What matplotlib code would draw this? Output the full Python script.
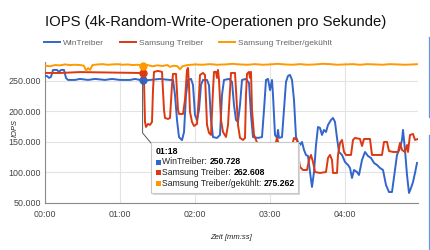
import matplotlib
matplotlib.use("Agg")
import matplotlib.pyplot as plt
from matplotlib.lines import Line2D
from matplotlib.patches import Rectangle
from matplotlib.ticker import FuncFormatter

plt.rcParams['font.family'] = ['Liberation Sans', 'DejaVu Sans']

# Zeit in Sekunden, IOPS in Tausend
win_t = [0, 1.6, 3.2, 4.8, 6.4, 9.6, 11.2, 12.8, 15.2, 16.8, 18.4, 24, 28, 34.4, 40, 48, 53.6, 60, 68, 72, 76, 78,
         84, 92, 100, 102.4, 104, 105.6, 107.2, 109.6, 111.2, 112.8, 114.4, 116.8, 118.4, 120, 121.6, 123.2, 124.8,
         126.4, 129.6, 131.2, 132.8, 134.4, 137.6, 140, 141.6, 143.2, 147.2, 149.6, 151.2, 152.8, 154.4, 156, 157.6,
         160.8, 163.2, 164.8, 166.4, 170.4, 173.6, 175.2, 176.8, 178.4, 180, 181.6, 182.4, 184, 185.6, 186.4, 187.2,
         189.6, 191.2, 192.8, 194.4, 196, 197.6, 199.2, 200.8, 202.4, 204, 205.6, 207.2, 208.8, 210.4, 212, 213.6,
         215.2, 216.8, 218.4, 220, 221.6, 223.2, 224.8, 226.4, 228.8, 230.4, 232, 233.6, 235.2, 237.6, 240, 242.4,
         244, 245.6, 247.2, 249.6, 251.2, 253.6, 256, 258.4, 260.8, 263.2, 265.6, 268, 270.4, 272.8, 275.2, 277.6,
         280, 281.6, 284, 285.6, 286.4, 288, 289.6, 291.2, 292.8, 294.4, 296, 297.6]
win_iops = [258.2, 258, 254.9, 256.6, 268, 268, 264.8, 268, 268, 254.9, 251.6, 251.6, 253.3, 251.6, 253.3, 251.6,
            253.3, 251.6, 251.6, 253.3, 251.6, 250.728, 251.6, 253.3, 251.6, 251.6, 227, 186, 158, 153, 166, 227,
            251.6, 253.3, 243.4, 194.3, 186, 202.5, 243.4, 251.6, 251.6, 243, 186, 158, 156.6, 161.5, 227, 251.6,
            253.3, 248.4, 210.6, 186, 182.8, 210.6, 251.6, 253.3, 246.7, 194.3, 158, 156.6, 158, 202.5, 251.6,
            253.3, 235, 251.6, 227, 161.5, 156.6, 169.7, 156.6, 158, 202.5, 248.4, 258.2, 259.8, 251.6, 218.9,
            158.2, 150, 145, 150, 137, 128.7, 127, 100.8, 76.2, 100.8, 145, 174.6, 173, 161.5, 169.7, 166.4, 177.9,
            186, 189.3, 182.8, 156.6, 133.6, 128.7, 117.2, 112.3, 107.4, 91, 104.1, 100.8, 95.9, 120.5, 133.6, 127,
            123.8, 115.6, 112.3, 107.4, 104.1, 79.5, 68, 68, 104.1, 128.7, 140.2, 153.3, 169.7, 136.9, 95.9, 66.4,
            74.6, 84.4, 99.2, 115.6]

sam_t = [0, 12, 28, 44, 60, 76, 78, 79.2, 80, 80.8, 82.4, 84, 85.6, 86.4, 87.2, 90.4, 93.6, 95.2, 96, 98.4, 100,
         101.6, 102.4, 104.8, 106.4, 107.2, 110.4, 112, 113.6, 114.4, 115.2, 116, 117.6, 119.2, 121.6, 123.2, 124,
         126.4, 128, 129.6, 131.2, 132.8, 134.4, 135.2, 136.8, 137.6, 138.4, 139.2, 140.8, 142.4, 144.8, 146.4, 148,
         148.8, 152, 152.8, 154.4, 156, 158.4, 160, 160.8, 161.6, 163.2, 164, 164.8, 165.6, 167.2, 168.8, 170.4,
         173.6, 176.8, 180, 183.2, 185.6, 187.2, 190.4, 193.6, 196.8, 199.2, 201.6, 203.2, 204, 206.4, 209.6, 211.2,
         212.8, 214.4, 216, 220, 224.8, 226.4, 228, 229.6, 230.4, 233.6, 234.4, 236, 237.6, 239.2, 240.8, 244.8,
         246.4, 248, 252, 253.6, 255.2, 260, 261.6, 266.4, 269.6, 271.2, 273.6, 275.2, 278.4, 282.4, 284, 285.6,
         288, 289.6, 290.4, 292, 294.4, 296, 298.4]
sam_iops = [263.1, 263, 264.5, 264, 263.5, 263, 262.608, 251.6, 182.8, 174.6, 179.5, 177.9, 182.8, 235, 264.8,
            266.4, 264.8, 202.5, 189.3, 187.7, 189.3, 243.4, 261.5, 261.5, 202.5, 195.9, 195.9, 218.9, 268, 271.3,
            243.4, 199.2, 182.8, 176.2, 179.5, 227, 259.8, 263.1, 259.8, 177.9, 164.8, 161.5, 235, 264.8, 264.8,
            254.9, 268, 251.6, 186, 166.4, 158.2, 177.9, 235, 263.1, 263.1, 235, 177.9, 156.6, 153.3, 156.6, 227,
            261.5, 264.8, 254.9, 264.8, 202.5, 161.5, 153.3, 145, 128.7, 120.5, 112.3, 137, 156.6, 145, 123.8,
            120.5, 137, 156.6, 153.3, 120.5, 109, 104.1, 104.1, 120.5, 128.7, 117.2, 100.8, 99.2, 100.8, 123.8,
            128.7, 120.5, 99.2, 99.2, 128.7, 148.4, 153.3, 133.6, 128.7, 128.7, 153.3, 156.6, 154.9, 143.4, 154.9,
            154.9, 128.7, 128.7, 128.7, 150, 150, 135.2, 133.6, 133.6, 148.4, 136.9, 133.6, 145, 133.6, 161.5, 163.1,
            153.3, 154.9]

kuehl_t = [0, 4, 8, 12, 16, 20, 24, 28, 31, 33, 34.5, 36, 38, 42, 46, 50, 54, 58, 62, 66, 70, 74, 78, 82, 86, 90,
           94, 98, 100, 103, 106, 108, 110, 114, 120, 126, 132, 138, 144, 150, 156, 162, 168, 174, 180, 186, 192,
           198, 204, 210, 216, 222, 228, 234, 240, 246, 252, 258, 264, 270, 276, 282, 288, 294, 298.4]
kuehl_iops = [275, 274, 276, 275.5, 277, 276, 276.5, 276, 275, 267, 271, 268, 276, 277, 277.5, 276.5, 277, 277.5,
              276.5, 277, 276, 276.5, 275.262, 276, 274, 275.5, 274.5, 276, 273, 275, 274, 269, 274, 276, 277,
              276.5, 277.5, 276.5, 277, 278, 277, 276.5, 277.5, 276.5, 277, 278, 277, 276.5, 277.5, 276.5, 277,
              278, 277.5, 276.5, 277, 277.5, 276.5, 277.5, 277, 276.5, 277.5, 277, 276.5, 277, 277.5]

series_names = ["WinTreiber", "Samsung Treiber", "Samsung Treiber/gekühlt"]
colors = ["#3366cc", "#dc3912", "#ff9900"]
hover_t = 78
hover_label = "01:18"
hover_vals = [250.728, 262.608, 275.262]

x_ticks = [0, 60, 120, 180, 240]
x_ticklabels = ["00:00", "01:00", "02:00", "03:00", "04:00"]
y_ticks = [50000, 100000, 150000, 200000, 250000]

W, H = 430, 250
fig = plt.figure(figsize=(W / 100, H / 100), dpi=100)
ax = fig.add_axes([45 / W, 47 / H, 373 / W, 141 / H])

for t, v, c in zip([win_t, sam_t, kuehl_t], [win_iops, sam_iops, kuehl_iops], colors):
    ax.plot(t, [x * 1000 for x in v], color=c, lw=1.4, solid_joinstyle='round', zorder=3)

ax.set_xlim(0, 298.4)
ax.set_ylim(50000, 281000)
ax.set_xticks(x_ticks)
ax.set_xticklabels(x_ticklabels)
ax.set_yticks(y_ticks)
ax.yaxis.set_major_formatter(FuncFormatter(lambda v, p: f"{v:,.0f}".replace(",", ".")))
ax.tick_params(length=0, labelsize=6.4, colors="#444444")
ax.tick_params(axis='x', pad=5)
ax.tick_params(axis='y', pad=3)
ax.grid(True, color="#e3e3e3", lw=0.8, zorder=0)
ax.set_axisbelow(True)
for s in ["top", "right"]:
    ax.spines[s].set_visible(False)
for s in ["left", "bottom"]:
    ax.spines[s].set_color("#8a8a8a")
    ax.spines[s].set_linewidth(0.8)

ax.set_ylabel("IOPS", fontsize=5.4, style='italic', color="#222222")
ax.yaxis.set_label_coords(-26 / 373, 0.53)
ax.set_xlabel("Zeit [mm:ss]", fontsize=5.5, style='italic', color="#222222", labelpad=11)

fig.text(45 / W, 1 - 22 / H, "IOPS (4k-Random-Write-Operationen pro Sekunde)", fontsize=10.7,
         color="#111111", va='center', ha='left')

handles = [Line2D([], [], color=c, lw=1.4) for c in colors]
leg = fig.legend(handles, series_names, loc='center left', bbox_to_anchor=(44 / W, 1 - 43 / H), ncol=3,
                 frameon=False, fontsize=6.0, handlelength=1.9, handletextpad=0.4, columnspacing=1.9,
                 borderpad=0, borderaxespad=0)
for txt in leg.get_texts():
    txt.set_color("#666666")

# Hover-Punkte und Tooltip
for v, c in zip(hover_vals, colors):
    ax.plot([hover_t], [v * 1000], 'o', color=c, ms=5, zorder=5, clip_on=False)


def px(x, y):
    return (x / W, 1 - y / H)


# Tooltip-Spitze
tail = Line2D([142.6 / W, 142.6 / W, 151 / W], [1 - 81 / H, 1 - 133 / H, 1 - 143 / H],
              transform=fig.transFigure, color="#555555", lw=0.7, zorder=6)
fig.add_artist(tail)
x0, y0 = px(151, 193)
x1, y1 = px(298, 142)
shadow = Rectangle((x0 + 1.5 / W, y0 - 1.5 / H), x1 - x0, y1 - y0, transform=fig.transFigure,
                   facecolor="#d8d8d8", edgecolor="none", zorder=6)
box = Rectangle((x0, y0), x1 - x0, y1 - y0, transform=fig.transFigure, facecolor="white",
                edgecolor="#c8c8c8", lw=0.8, zorder=7)
fig.add_artist(shadow)
fig.add_artist(box)
fig.text(*px(156, 151), hover_label, fontsize=6.3, weight='bold', color="#000000", va='center', zorder=8)

fig.canvas.draw()
renderer = fig.canvas.get_renderer()
for i, (name, v, c) in enumerate(zip(series_names, hover_vals, colors)):
    yc = 162 + i * 10.7
    sq = Rectangle(px(156, yc + 2.5), 5 / W, 5 / H, transform=fig.transFigure, facecolor=c,
                   edgecolor='none', zorder=8)
    fig.add_artist(sq)
    t1 = fig.text(*px(162.5, yc), name + ": ", fontsize=6.2, color="#222222", va='center', zorder=8)
    bb = t1.get_window_extent(renderer)
    fig.text(bb.x1 / W, 1 - yc / H, f"{v:.3f}", fontsize=6.2, weight='bold', color="#000000",
             va='center', zorder=8)

# Rand rechts (Seitenelement)
fig.add_artist(Line2D([428.5 / W] * 2, [1 - 37 / H, 1 - 117 / H], transform=fig.transFigure,
                      color="#5b9be6", lw=0.9))
fig.add_artist(Line2D([428.5 / W] * 2, [1 - 135 / H, 0], transform=fig.transFigure,
                      color="#5b9be6", lw=0.9))

fig.savefig("out.png", dpi=100)
